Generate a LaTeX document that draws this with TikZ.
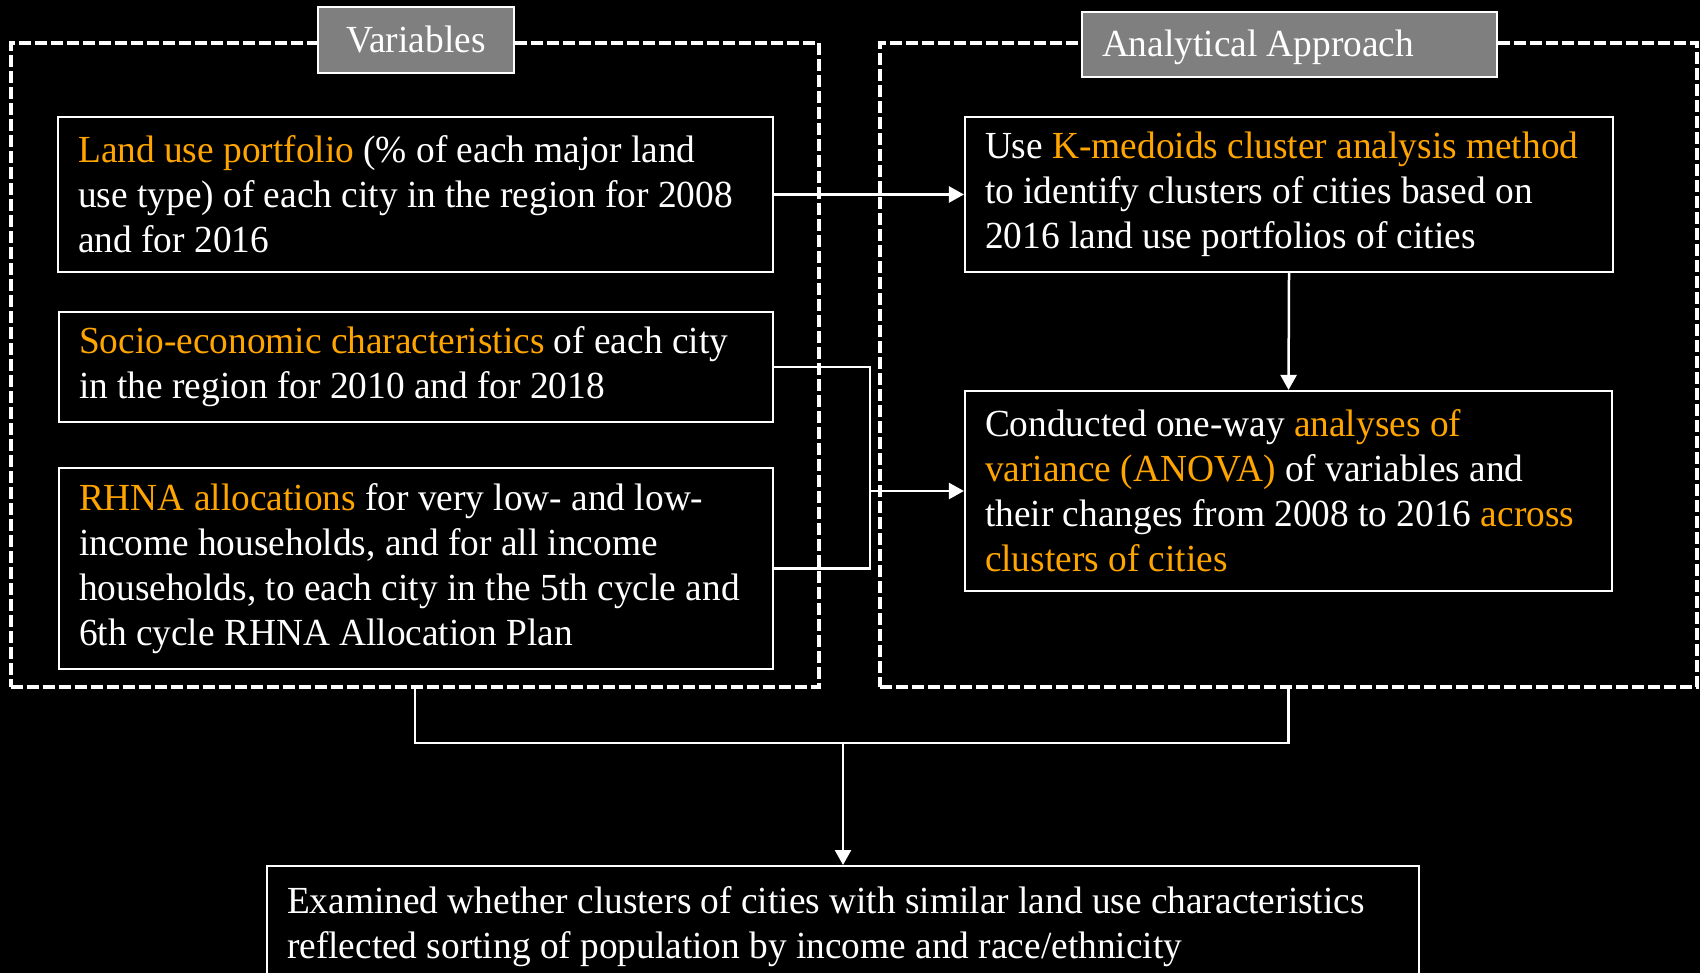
\documentclass[tikz,border=0pt]{standalone}
\usepackage{fontspec}
\setmainfont{Liberation Serif}[FakeStretch=0.975]
\usetikzlibrary{arrows.meta}
\definecolor{hl}{HTML}{FFA500}
\definecolor{titlegray}{HTML}{7F7F7F}
\tikzset{
  frame/.style={draw=white,line width=0.38mm,dash pattern=on 1.2mm off 0.4mm},
  title/.style={draw=white,fill=titlegray,line width=0.2mm,text=white,inner sep=0pt,
    text height=2.5mm,text depth=0pt,font=\fontsize{10.9}{12.8}\selectfont},
  textbox/.style={draw=white,line width=0.22mm,text=white,align=flush left,inner xsep=2mm,inner ysep=0pt,
    font=\fontsize{10.9}{12.8}\selectfont},
  link/.style={draw=white,line width=0.25mm},
  arr/.style={link,-{Triangle[length=1.5mm,width=1.6mm]}}
}
\begin{document}
\begin{tikzpicture}[x=0.1mm,y=-0.1mm]
  \fill[black] (0,0) rectangle (1700,973);
  \useasboundingbox (0,0) rectangle (1700,973);
  % dashed frames with their titles
  \node[frame,minimum width=80.8mm,minimum height=64.4mm] (varframe) at (415,365) {};
  \node[frame,minimum width=81.7mm,minimum height=64.4mm] (appframe) at (1288.5,365) {};
  \node[title,minimum width=19.6mm,minimum height=6.6mm] (vars) at (416,40) {Variables};
  \node[title,minimum width=41.5mm,minimum height=6.5mm,text width=37.5mm,align=flush left] (approach) at (1289.5,44.5) {Analytical Approach};
  % variables
  \node[textbox,minimum width=71.5mm,minimum height=15.5mm,text width=67.5mm] (landuse) at (415.75,194.5)
    {{\color{hl}Land use portfolio} (\% of each major land\\use type) of each city in the region for 2008\\and for 2016};
  \node[textbox,minimum width=71.4mm,minimum height=11mm,text width=67.4mm] (socio) at (416,367)
    {{\color{hl}Socio-economic characteristics} of each city\\in the region for 2010 and for 2018};
  \node[textbox,minimum width=71.4mm,minimum height=20.1mm,text width=67.4mm] (rhna) at (416,568.5)
    {{\color{hl}RHNA allocations} for very low- and low-\\income households, and for all income\\households, to each city in the 5th cycle and\\6th cycle RHNA Allocation Plan};
  % analytical approach
  \node[textbox,minimum width=64.8mm,minimum height=15.5mm,text width=60.8mm] (kmedoids) at (1289,194.5)
    {Use {\color{hl}K-medoids cluster analysis method}\\to identify clusters of cities based on\\2016 land use portfolios of cities};
  \node[textbox,minimum width=64.7mm,minimum height=20mm,text width=60.7mm] (anova) at (1288.5,491)
    {Conducted one-way {\color{hl}analyses of}\\{\color{hl}variance (ANOVA)} of variables and\\their changes from 2008 to 2016 {\color{hl}across}\\{\color{hl}clusters of cities}};
  % result
  \node[textbox,anchor=north,minimum width=115.2mm,text width=111.2mm,inner ysep=2mm] (examine) at (843,865)
    {Examined whether clusters of cities with similar land use characteristics\\reflected sorting of population by income and race/ethnicity};
  % connectors
  \coordinate (bar) at (870,0);
  \coordinate (merge) at (843,743);
  \path[arr] (landuse.east) -- (kmedoids.west);
  \path[link] (socio.east) -| (bar |- rhna.east) -- (rhna.east);
  \path[arr] (bar |- anova.west) -- (anova.west);
  \path[arr] (kmedoids.south) -- (anova.north);
  \path[link] (varframe.south) -- (varframe.south |- merge) -| (appframe.south);
  \path[arr] (merge) -- (examine.north);
\end{tikzpicture}
\end{document}
